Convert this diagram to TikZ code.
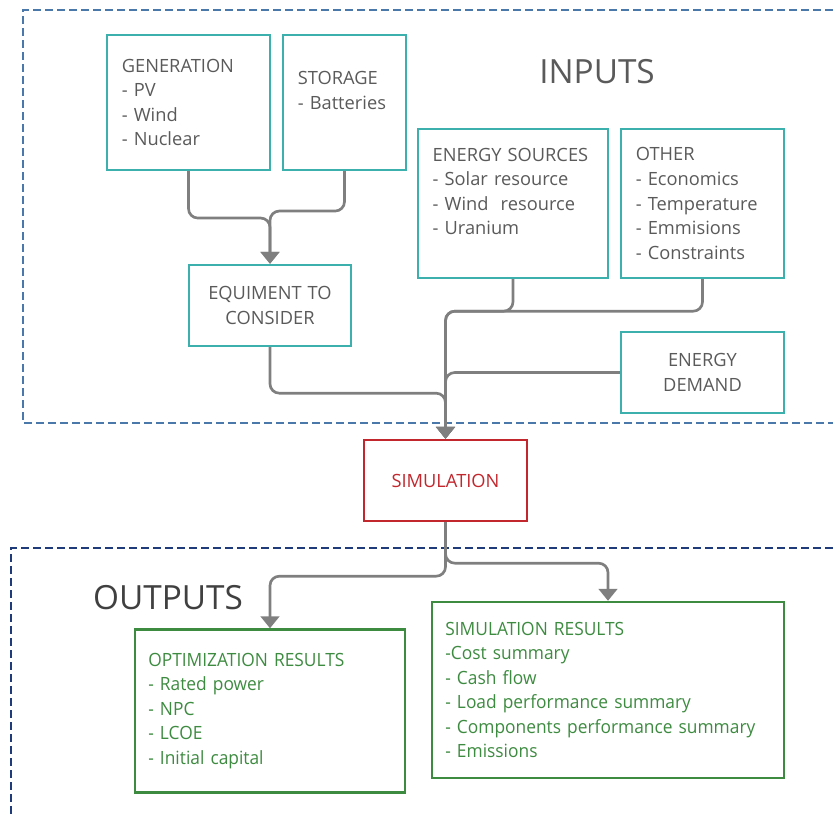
\documentclass[tikz,border=0pt]{standalone}
\usepackage{fontspec}
\setmainfont{Open Sans}
\newfontfamily\outfont[FakeStretch=0.95]{Open Sans}
\usepackage{tikz}
\usetikzlibrary{arrows.meta}

\definecolor{boxteal}{HTML}{3BB0AC}
\definecolor{txtgray}{HTML}{5A5A5A}
\definecolor{linegray}{HTML}{7F7F7F}
\definecolor{simred}{HTML}{C1272D}
\definecolor{resgreen}{HTML}{3D8B40}
\definecolor{inblue}{HTML}{4A78AA}
\definecolor{outnavy}{HTML}{1F3B7A}

\begin{document}
\begin{tikzpicture}[x=0.75pt, y=-0.75pt, >={Triangle[length=9pt,width=14pt]},
        every node/.style={font=\fontsize{13.7}{18.4}\selectfont},
        inbox/.style={draw=boxteal, line width=1.8pt, text=txtgray, align=left,
            inner xsep=11pt, inner ysep=0pt},
        simbox/.style={draw=simred, line width=1.8pt, text=simred, align=center,
            inner xsep=11pt, inner ysep=0pt},
        outbox/.style={draw=resgreen, line width=1.8pt, text=resgreen, align=left,
            inner xsep=10pt, inner ysep=0pt, font=\outfont\fontsize{13.7}{18.4}\selectfont},
        title/.style={font=\fontsize{25}{30}\selectfont},
        frame/.style={line width=1.5pt, dash pattern=on 6pt off 3pt},
        conn/.style={->, draw=linegray, line width=2pt, rounded corners=7pt}]
        \useasboundingbox (0,0) rectangle (833,818);

        % dashed frames
        \draw[frame, draw=inblue] (833,10) -- (23,10) -- (23,423) -- (833,423);
        \draw[frame, draw=outnavy] (833,548) -- (11,548) -- (11,818);

        \node[title, text=txtgray] (inputs) at (597,72) {INPUTS};
        \node[title, text=black!75] (outputs) at (168,598) {OUTPUTS};

        % inputs
        \node[inbox, text width=100pt, minimum height=101pt] (gen) at (188.5,102.5)
            {GENERATION\\- PV\\- Wind\\- Nuclear};
        \node[inbox, text width=70pt, minimum height=101pt] (stor) at (344.5,102.5)
            {STORAGE\\- Batteries\\\mbox{}};
        \node[inbox, text width=120.5pt, minimum height=111.75pt] (src) at (513,203.5)
            {ENERGY SOURCES\\- Solar resource\\- Wind\ \ resource\\- Uranium\\\mbox{}};
        \node[inbox, text width=100pt, minimum height=111.75pt] (oth) at (702.5,203.5)
            {OTHER\\- Economics\\- Temperature\\- Emmisions\\- Constraints};
        \node[inbox, align=center, text width=99.5pt, minimum height=60.75pt] (equip) at (270,305.5)
            {EQUIMENT TO\\CONSIDER};
        \node[inbox, align=center, text width=100pt, minimum height=60.75pt] (dem) at (702.5,372.5)
            {ENERGY\\DEMAND};

        \node[simbox, text width=100pt, minimum height=60.75pt] (sim) at (445.5,480.5) {SIMULATION};

        % outputs
        \node[outbox, text width=182.5pt, minimum height=122.25pt] (opt) at (270,711)
            {OPTIMIZATION RESULTS\\- Rated power\\- NPC\\- LCOE\\- Initial capital};
        \node[outbox, text width=244pt, minimum height=132pt] (res) at (608,690)
            {SIMULATION RESULTS\\-Cost summary\\- Cash flow\\- Load performance summary\\- Components performance summary\\- Emissions};

        \draw[conn] (gen.south) -- ++(0,47) -| (equip.north);
        \draw[conn] (stor.south) -- ++(0,40) -| (equip.north);
        \draw[conn] (src.south) -- ++(0,32) -| (sim.north);
        \draw[conn] (oth.south) -- ++(0,32) -| (sim.north);
        \draw[conn] (equip.south) -- ++(0,46) -| (sim.north);
        \draw[conn] (dem.west) -| (sim.north);
        \draw[conn] (sim.south) -- ++(0,54) -| (opt.north);
        \draw[conn] (sim.south) -- ++(0,41) -| (res.north);
    \end{tikzpicture}
\end{document}
